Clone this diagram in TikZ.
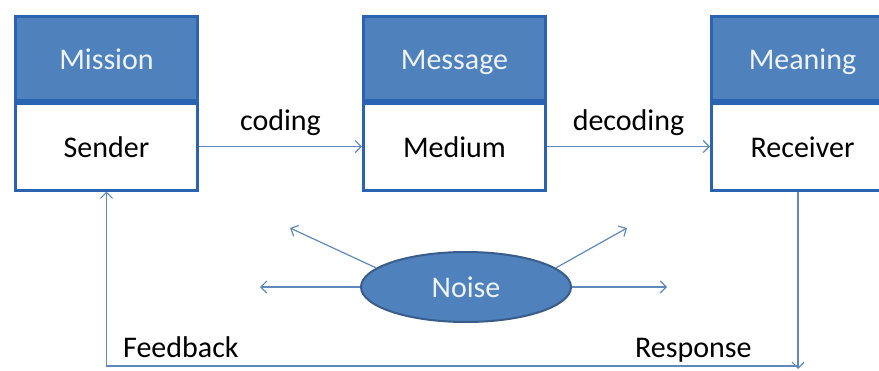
\documentclass[tikz,border=0pt]{standalone}
\usepackage{fontspec}
\setmainfont{Carlito}
\usetikzlibrary{positioning, shapes.geometric, arrows.meta}
\definecolor{headblue}{HTML}{4F81BD}
\definecolor{rimblue}{HTML}{2A63B0}
\definecolor{lineblue}{HTML}{5E89BA}
\definecolor{noiserim}{HTML}{385D8A}
\definecolor{headtext}{HTML}{EEF3FA}

\begin{document}
\begin{tikzpicture}[x=1pt, y=1pt, >={Straight Barb[length=6pt, width=12pt]},
  node distance=163pt,
  head/.style={rectangle, draw=rimblue, fill=headblue, line width=3pt,
    minimum width=182pt, minimum height=84pt, inner sep=0pt,
    text height=26pt, text depth=4pt,
    text=headtext, font=\fontsize{30}{36}\selectfont},
  body/.style={head, fill=white, text=black, minimum height=87pt},
  tag/.style={font=\fontsize{30}{36}\selectfont, inner sep=3pt},
  flow/.style={->, draw=lineblue, line width=1.2pt}]

% frame of the picture
\clip (0,0) rectangle (879,-370);

% define the three boxes
  \node[head] (mission) at (106.5,-58) {Mission};
  \node[body, below=0pt of mission] (sender) {Sender};
  \node[head, right=of mission] (message) {Message};
  \node[body, below=0pt of message] (medium) {Medium};
  \node[head, right=of message] (meaning) {Meaning};
  \node[body, below=0pt of meaning] (receiver) {Receiver};

% noise in the middle
  \node[ellipse, fill=headblue, draw=noiserim, line width=2pt,
    minimum width=210pt, minimum height=70pt, text=headtext,
    font=\fontsize{30}{36}\selectfont] (noise) at (466,-287) {Noise};

% free ends
  \coordinate (nw) at (290,-228);
  \coordinate (ne) at (627,-228);
  \coordinate (nl) at (260,-287);
  \coordinate (nr) at (667,-287);
  \coordinate (rbot) at (798,-369);
  \coordinate (fbot) at (798,-366);

% define the links
  \draw[flow] (sender) -- node[tag, above=7pt] {coding} (medium);
  \draw[flow] (medium) -- node[tag, above=7pt] {decoding} (receiver);
  \draw[flow] (receiver.south -| rbot) -- (rbot);
  \draw[flow] (fbot) -| (sender);
  \draw[flow] (noise.168) -- (nw);
  \draw[flow] (noise.12) -- (ne);
  \draw[flow] (noise) -- (nl);
  \draw[flow] (noise) -- (nr);

% texts at the bottom
  \node[tag, anchor=base west] (feedback) at (120,-357) {Feedback};
  \node[tag, anchor=base west] (response) at (632,-357) {Response};

\end{tikzpicture}
\end{document}
